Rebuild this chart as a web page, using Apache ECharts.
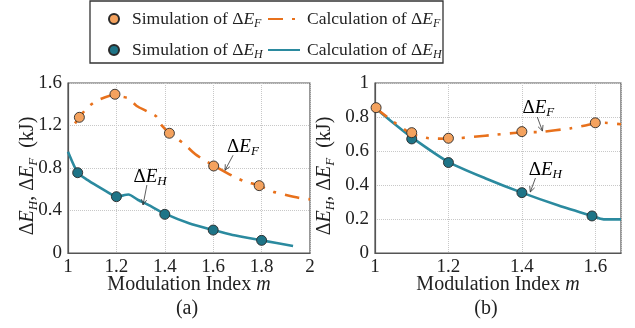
<!DOCTYPE html>
<html><head><meta charset="utf-8">
<script src="https://cdn.jsdelivr.net/npm/echarts@6/dist/echarts.min.js"></script>
<style>html,body{margin:0;padding:0;background:#fff}#c{width:635px;height:328px}</style>
</head><body><div id="c"></div>
<script>
// ---------- data: panel (a) ----------
const xTicksA = [1, 1.2, 1.4, 1.6, 1.8, 2];
const yTicksA = [0, 0.4, 0.8, 1.2, 1.6];
const simF_A_m = [1.047, 1.194, 1.419, 1.602, 1.79];
const simF_A_v = [1.277, 1.494, 1.127, 0.819, 0.634];
const simH_A_m = [1.04, 1.2, 1.4, 1.6, 1.8];
const simH_A_v = [0.756, 0.53, 0.364, 0.216, 0.119];
const calcF_A_m = [1.029, 1.077, 1.118, 1.19, 1.222, 1.249, 1.284, 1.33, 1.366, 1.38, 1.419, 1.477, 1.525, 1.562, 1.603, 1.68, 1.725, 1.789, 1.848, 1.901, 1.952, 2.0];
const calcF_A_v = [1.22, 1.362, 1.433, 1.487, 1.471, 1.456, 1.384, 1.33, 1.283, 1.22, 1.127, 1.032, 0.932, 0.875, 0.822, 0.725, 0.678, 0.634, 0.577, 0.546, 0.52, 0.505];
const calcH_A_m = [1.0, 1.04, 1.08, 1.12, 1.16, 1.2, 1.25, 1.29, 1.33, 1.4, 1.5, 1.6, 1.68, 1.8, 1.93];
const calcH_A_v = [0.953, 0.756, 0.688, 0.631, 0.578, 0.53, 0.55, 0.499, 0.455, 0.37, 0.28, 0.216, 0.169, 0.119, 0.066];
// ---------- data: panel (b) ----------
const xTicksB = [1, 1.2, 1.4, 1.6];
const yTicksB = [0, 0.2, 0.4, 0.6, 0.8, 1];
const xMaxB = 1.67;
const simF_B_m = [1.003, 1.1, 1.2, 1.4, 1.6];
const simF_B_v = [0.855, 0.708, 0.675, 0.714, 0.766];
const simH_B_m = [1.1, 1.2, 1.4, 1.591];
const simH_B_v = [0.671, 0.532, 0.355, 0.218];
const calcF_B_m = [1.0, 1.05, 1.1, 1.123, 1.146, 1.2, 1.3, 1.4, 1.45, 1.532, 1.573, 1.6, 1.626, 1.67];
const calcF_B_v = [0.855, 0.772, 0.7, 0.685, 0.675, 0.672, 0.69, 0.71, 0.712, 0.733, 0.75, 0.762, 0.766, 0.757];
const calcH_B_m = [1.0, 1.05, 1.1, 1.2, 1.3, 1.4, 1.5, 1.591, 1.623, 1.67];
const calcH_B_v = [0.855, 0.765, 0.68, 0.535, 0.44, 0.355, 0.279, 0.218, 0.198, 0.198];
// annotations [text key, label m, label v, arrow start m, v, arrow end m, v]
const annA = [['F', 1.723, 0.998, 1.682, 0.92, 1.649, 0.779], ['H', 1.339, 0.715, 1.326, 0.64, 1.31, 0.452]];
const annB = [['F', 1.445, 0.853, 1.442, 0.80, 1.456, 0.718], ['H', 1.464, 0.488, 1.437, 0.441, 1.423, 0.359]];

const FONT = '"Liberation Serif","Times New Roman",serif';
const ORANGE_LINE = '#E8711C', ORANGE_FILL = '#F4A25E';
const TEAL_LINE = '#2B8A9F', TEAL_FILL = '#1E7487';
const DASHDOT = [15, 9, 3, 9];

const zip = (a, b) => a.map((x, i) => [x, b[i]]);
const richBase = (fs) => ({
  sp: {width: 2},
  n: {fontFamily: FONT, fontSize: fs, color: '#222', lineHeight: Math.round(fs + 4)},
  i: {fontFamily: FONT, fontSize: fs, fontStyle: 'italic', color: '#222', lineHeight: Math.round(fs + 4)},
  s: {fontFamily: FONT, fontSize: Math.round(fs * 0.66), fontStyle: 'italic', color: '#222', verticalAlign: 'bottom', lineHeight: Math.round(fs * 0.7)}
});
const legendText = {
  simF: '{sp|}{n|Simulation of Δ}{i|E}{s|F}',
  calcF: '{sp|}{n|Calculation of Δ}{i|E}{s|F}',
  simH: '{sp|}{n|Simulation of Δ}{i|E}{s|H}',
  calcH: '{sp|}{n|Calculation of Δ}{i|E}{s|H}'
};
const yName = '{n|Δ}{i|E}{s|H}{n|, Δ}{i|E}{s|F}{n|  (kJ)}';

function mkLegend(name, left, top, w, hideSym) {
  const o = {
    data: [name], left: left, top: top, padding: 0, itemWidth: w, itemHeight: 10,
    selectedMode: false, formatter: n => legendText[n],
    textStyle: {rich: richBase(17.5), fontFamily: FONT}
  };
  if (hideSym) o.itemStyle = {opacity: 0};
  return o;
}
function xAxisOpt(grid, ticks, max, hideMax) {
  return {
    type: 'value', gridIndex: grid, min: ticks[0], max: max, interval: 0.2,
    name: '{n|Modulation Index }{i|m}', nameLocation: 'middle', nameGap: 20,
    nameMoveOverlap: false,
    nameTextStyle: {rich: richBase(20)},
    axisLine: {show: true, lineStyle: {color: '#555', width: 1.2}},
    axisTick: {show: false},
    axisLabel: {fontFamily: FONT, fontSize: 19, color: '#222', margin: 5, showMaxLabel: !hideMax},
    splitLine: {show: true, lineStyle: {color: '#c8c8c8', type: 'dotted', width: 1}}
  };
}
function yAxisOpt(grid, ticks, gap) {
  return {
    type: 'value', gridIndex: grid, min: ticks[0], max: ticks[ticks.length - 1],
    interval: ticks[1] - ticks[0],
    name: yName, nameLocation: 'middle', nameRotate: 90, nameGap: gap,
    nameMoveOverlap: false,
    nameTextStyle: {rich: richBase(20), padding: [0, 16, 0, 0]},
    axisLine: {show: true, lineStyle: {color: '#555', width: 1.2}},
    axisTick: {show: false},
    axisLabel: {fontFamily: FONT, fontSize: 19, color: '#222', margin: 6},
    splitLine: {show: true, lineStyle: {color: '#c8c8c8', type: 'dotted', width: 1}}
  };
}
function calcSeries(name, idx, m, v, color, dash) {
  return {
    name: name, type: 'line', xAxisIndex: idx, yAxisIndex: idx, data: zip(m, v),
    symbol: 'none', smooth: 0.2, z: 2,
    lineStyle: {color: color, width: 2.6, type: dash},
    itemStyle: {color: color}
  };
}
function simSeries(name, idx, m, v, fill, z) {
  return {
    name: name, type: 'scatter', xAxisIndex: idx, yAxisIndex: idx, data: zip(m, v),
    symbol: 'circle', symbolSize: 10, z: z, clip: false,
    itemStyle: {color: fill, borderColor: '#2a2a2a', borderWidth: 0.9, opacity: 1}
  };
}

const chart = echarts.init(document.getElementById('c'));
chart.setOption({
  animation: false,
  backgroundColor: '#fff',
  legend: [
    mkLegend('simF', 108, 10, 22, false), mkLegend('calcF', 267, 10, 32, true),
    mkLegend('simH', 108, 41, 22, false), mkLegend('calcH', 267, 41, 32, true)
  ],
  grid: [
    {left: 68, top: 83, width: 242, height: 170, show: true, borderColor: '#555', borderWidth: 1.2},
    {left: 375, top: 83, width: 246, height: 170, show: true, borderColor: '#555', borderWidth: 1.2}
  ],
  xAxis: [xAxisOpt(0, xTicksA, xTicksA[xTicksA.length - 1], false), xAxisOpt(1, xTicksB, xMaxB, true)],
  yAxis: [yAxisOpt(0, yTicksA, 28), yAxisOpt(1, yTicksB, 38)],
  series: [
    calcSeries('calcH', 0, calcH_A_m, calcH_A_v, TEAL_LINE, 'solid'),
    calcSeries('calcF', 0, calcF_A_m, calcF_A_v, ORANGE_LINE, DASHDOT),
    simSeries('simH', 0, simH_A_m, simH_A_v, TEAL_FILL, 5),
    simSeries('simF', 0, simF_A_m, simF_A_v, ORANGE_FILL, 6),
    calcSeries('calcH', 1, calcH_B_m, calcH_B_v, TEAL_LINE, 'solid'),
    calcSeries('calcF', 1, calcF_B_m, calcF_B_v, ORANGE_LINE, DASHDOT),
    simSeries('simH', 1, simH_B_m, simH_B_v, TEAL_FILL, 5),
    simSeries('simF', 1, simF_B_m, simF_B_v, ORANGE_FILL, 6)
  ]
});

// legend frame, panel captions and annotations
const g = [
  {type: 'rect', shape: {x: 90, y: 1, width: 353, height: 62}, style: {fill: 'none', stroke: '#333', lineWidth: 1.3}, z: 0},
  {type: 'text', x: 187, y: 309, style: {text: '(a)', font: '20px ' + FONT, fill: '#222', align: 'center', verticalAlign: 'middle'}},
  {type: 'text', x: 486, y: 309, style: {text: '(b)', font: '20px ' + FONT, fill: '#222', align: 'center', verticalAlign: 'middle'}}
];
function addAnn(list, gi) {
  list.forEach(a => {
    const p = chart.convertToPixel({gridIndex: gi}, [a[1], a[2]]);
    const s = chart.convertToPixel({gridIndex: gi}, [a[3], a[4]]);
    const e = chart.convertToPixel({gridIndex: gi}, [a[5], a[6]]);
    g.push({type: 'text', x: p[0], y: p[1], z: 10,
      style: {text: '{n|Δ}{i|E}{s|' + a[0] + '}', rich: richBase(19), align: 'center', verticalAlign: 'middle'}});
    g.push({type: 'line', z: 10, shape: {x1: s[0], y1: s[1], x2: e[0], y2: e[1]}, style: {stroke: '#333', lineWidth: 0.8}});
    const ang = Math.atan2(e[1] - s[1], e[0] - s[0]), L = 6, w = 0.45;
    g.push({type: 'polyline', z: 10, shape: {points: [
      [e[0] - L * Math.cos(ang - w), e[1] - L * Math.sin(ang - w)], e,
      [e[0] - L * Math.cos(ang + w), e[1] - L * Math.sin(ang + w)]]},
      style: {stroke: '#333', lineWidth: 0.8, fill: 'none'}});
  });
}
addAnn(annA, 0);
addAnn(annB, 1);
chart.setOption({graphic: g});
</script>
</body></html>
